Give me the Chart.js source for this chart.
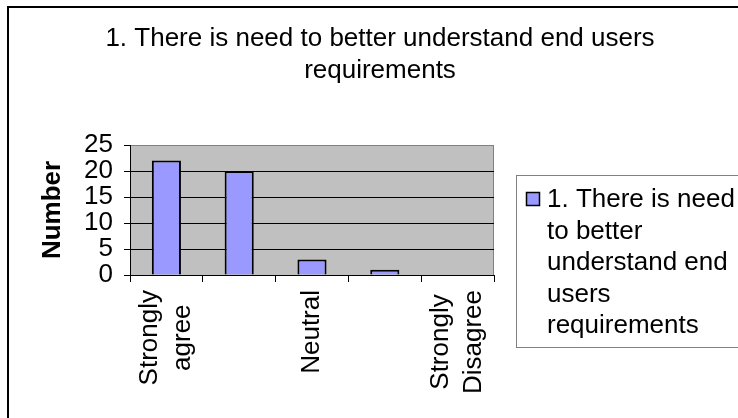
<!DOCTYPE html>
<html>
<head>
<meta charset="utf-8">
<script src="https://cdn.jsdelivr.net/npm/chart.js@4"></script>
<style>
  html, body { margin: 0; padding: 0; background: #fff; }
  canvas { display: block; }
</style>
</head>
<body>
<canvas id="chart" width="738" height="418"></canvas>
<script>
// --- Datos del gráfico ---
const titleLines = ['1. There is need to better understand end users', 'requirements'];
const categories = [['Strongly', 'agree'], '', 'Neutral', '', ['Strongly', 'Disagree']];
const seriesLabel = '1. There is need to better understand end users requirements';
const seriesValues = [22, 20, 3, 1, 0];
const yTicks = [0, 5, 10, 15, 20, 25];
const yTitle = 'Number';

// --- Estilos ---
const FONT = '"Liberation Sans", Arial, sans-serif';
const FONT_SIZE = 26;
const BAR_COLOR = '#9999FF';
const PLOT_BG = '#C0C0C0';

// --- Utilidades ---
function wrapText(ctx, text, maxWidth) {
    const words = text.split(' ');
    const lines = [];
    let line = '';
    words.forEach(w => {
        const test = line ? line + ' ' + w : w;
        if (line && ctx.measureText(test).width > maxWidth) { lines.push(line); line = w; } else { line = test; }
    });
    if (line) lines.push(line);
    return lines;
}

// --- Fondo, marco exterior y título ---
const chartFrame = {
    id: 'chartFrame',
    beforeDraw(chart) {
        const { ctx, chartArea: a } = chart;
        ctx.save();
        ctx.fillStyle = '#fff';
        ctx.fillRect(0, 0, chart.width, chart.height);
        ctx.fillStyle = PLOT_BG;
        ctx.fillRect(a.left, a.top, a.right - a.left, a.bottom - a.top);
        ctx.strokeStyle = '#808080';
        ctx.lineWidth = 1;
        ctx.strokeRect(a.left + 0.5, a.top + 0.5, a.right - a.left - 1, a.bottom - a.top);

        ctx.fillStyle = '#000';
        ctx.fillRect(7, 6, 2, chart.height);
        ctx.fillRect(7, 6, chart.width, 2);

        ctx.font = `${FONT_SIZE}px ${FONT}`;
        ctx.textAlign = 'center';
        ctx.textBaseline = 'alphabetic';
        titleLines.forEach((t, i) => ctx.fillText(t, 380, 46 + i * 32));
        ctx.restore();
    }
};

// --- Etiquetas del eje X (rotadas, centradas entre líneas) ---
const xLabels = {
    id: 'xLabels',
    afterDraw(chart) {
        const { ctx } = chart;
        const xs = chart.scales.x;
        ctx.save();
        ctx.font = `${FONT_SIZE}px ${FONT}`;
        ctx.fillStyle = '#000';
        ctx.textAlign = 'center';
        ctx.textBaseline = 'middle';
        chart.data.labels.forEach((lab, i) => {
            const lines = [].concat(lab).filter(s => s);
            if (!lines.length) return;
            const w = Math.max(...lines.map(s => ctx.measureText(s).width));
            ctx.save();
            ctx.translate(xs.getPixelForTick(i), xs.top + 15 + w / 2);
            ctx.rotate(-Math.PI / 2);
            lines.forEach((s, j) => ctx.fillText(s, 0, (j - (lines.length - 1) / 2) * 33));
            ctx.restore();
        });
        ctx.restore();
    }
};

// --- Leyenda con caja y texto partido ---
const boxLegend = {
    id: 'boxLegend',
    afterDraw(chart) {
        const { ctx } = chart;
        const ds = chart.data.datasets[0];
        ctx.save();
        ctx.font = `${FONT_SIZE}px ${FONT}`;
        const lines = wrapText(ctx, ds.label, 192);
        ctx.strokeStyle = '#808080';
        ctx.lineWidth = 1;
        ctx.strokeRect(516.5, 175.5, 300, 172);
        ctx.fillStyle = ds.backgroundColor;
        ctx.fillRect(526, 192, 14, 14);
        ctx.strokeStyle = '#000';
        ctx.lineWidth = 1.5;
        ctx.strokeRect(526.5, 192.5, 13, 13);
        ctx.fillStyle = '#000';
        ctx.textAlign = 'left';
        ctx.textBaseline = 'alphabetic';
        lines.forEach((l, i) => ctx.fillText(l, 547, 207 + i * 31.5));
        ctx.restore();
    }
};

const chart = new Chart(document.getElementById('chart').getContext('2d'), {
    type: 'bar',
    data: {
        labels: categories,
        datasets: [{
            label: seriesLabel,
            data: seriesValues,
            backgroundColor: BAR_COLOR,
            borderColor: '#000',
            borderWidth: 2,
            barPercentage: 0.4,
            categoryPercentage: 1
        }]
    },
    options: {
        responsive: false,
        animation: false,
        layout: { padding: { top: 145, right: 244, bottom: 0, left: 0 } },
        plugins: {
            legend: { display: false },
            title: { display: false },
            tooltip: { enabled: false }
        },
        scales: {
            x: {
                offset: true,
                grid: { display: true, drawOnChartArea: false, drawTicks: true, tickLength: 7, color: '#000', offset: true },
                border: { display: true, color: '#000', width: 1 },
                ticks: { display: false },
                afterFit: s => { s.height = 418 - 275; }
            },
            y: {
                min: yTicks[0],
                max: yTicks[yTicks.length - 1],
                afterBuildTicks: s => { s.ticks = yTicks.map(v => ({ value: v })); },
                grid: {
                    color: c => (c.tick && c.tick.value === 25 ? '#808080' : '#000'),
                    tickColor: '#000',
                    tickLength: 6,
                    lineWidth: 1
                },
                border: { display: true, color: '#000', width: 1 },
                ticks: { color: '#000', padding: 11, autoSkip: false, font: { family: FONT, size: FONT_SIZE } },
                title: {
                    display: true,
                    text: yTitle,
                    color: '#000',
                    font: { family: FONT, size: FONT_SIZE, weight: 'bold' },
                    padding: { top: 37, bottom: 0 }
                },
                afterFit: s => { s.width = 130; }
            }
        }
    },
    plugins: [chartFrame, xLabels, boxLegend]
});
</script>
</body>
</html>
